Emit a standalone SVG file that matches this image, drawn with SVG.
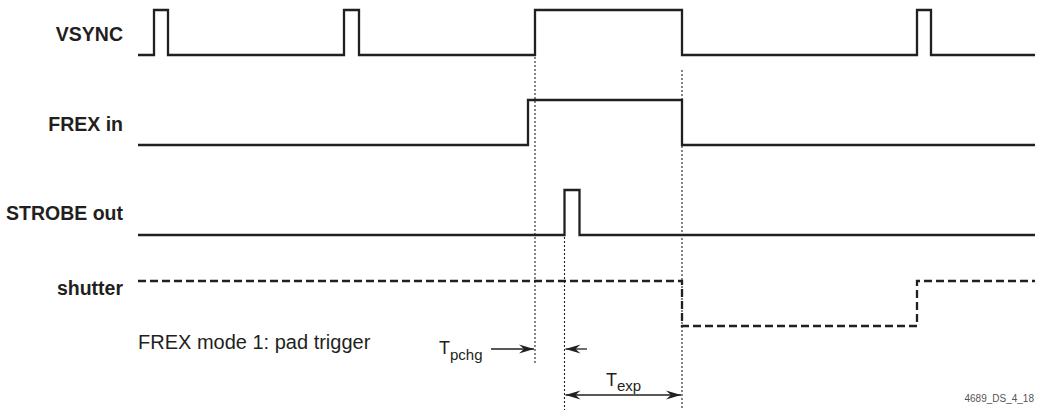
<svg xmlns="http://www.w3.org/2000/svg" width="1046" height="412" viewBox="0 0 1046 412">
<style>
.sig{fill:none;stroke:#231f20;stroke-width:2.3;stroke-linejoin:miter}
.dash{stroke-dasharray:8 4}
.dot{fill:none;stroke:#231f20;stroke-width:1.1;stroke-dasharray:2 2}
.arr{fill:none;stroke:#231f20;stroke-width:1.3}
.lbl{font-family:"Liberation Sans",Arial,sans-serif;font-weight:bold;font-size:19.5px;fill:#231f20;text-anchor:end}
.txt{font-family:"Liberation Sans",Arial,sans-serif;font-size:20px;fill:#231f20}
.sym{font-family:"Liberation Sans",Arial,sans-serif;font-size:18px;fill:#231f20}
.sub{font-size:15px}
.foot{font-family:"Liberation Sans",Arial,sans-serif;font-size:10px;fill:#555}
</style>
<defs>
<marker id="ah" markerUnits="userSpaceOnUse" markerWidth="16" markerHeight="10" refX="15" refY="5" orient="auto-start-reverse">
<path d="M0,0.5 L15,5 L0,9.5 L5,5 Z" fill="#231f20"/>
</marker>
</defs>
<rect width="1046" height="412" fill="#fff"/>
<g id="vsync">
<text class="lbl" x="123" y="41">VSYNC</text>
<path class="sig" d="M138,55 H154 V10 H168 V55 H344 V10 H359 V55 H535 V10 H682 V55 H917 V10 H931 V55 H1035"/>
</g>
<g id="frex">
<text class="lbl" x="123" y="131">FREX in</text>
<path class="sig" d="M138,145 H528 V100 H682 V145 H1035"/>
</g>
<g id="strobe">
<text class="lbl" x="123" y="220">STROBE out</text>
<path class="sig" d="M138,235 H564.5 V190 H579.5 V235 H1035"/>
</g>
<g id="shutter">
<text class="lbl" x="123" y="295">shutter</text>
<path class="sig dash" d="M138,281 H682 V326 H917 V281 H1035"/>
</g>
<g id="caption">
<text class="txt" x="138" y="349">FREX mode 1: pad trigger</text>
<text class="foot" x="1034" y="402" text-anchor="end">4689_DS_4_18</text>
</g>
<g id="connectors">
<line class="dot" x1="535" y1="57" x2="535" y2="365"/>
<line class="dot" x1="564.5" y1="237" x2="564.5" y2="410"/>
<line class="dot" x1="682" y1="70" x2="682" y2="410"/>
<line class="arr" x1="491" y1="349" x2="534" y2="349" marker-end="url(#ah)"/>
<line class="arr" x1="587" y1="349" x2="565.5" y2="349" marker-end="url(#ah)"/>
<line class="arr" x1="565.5" y1="395" x2="681" y2="395" marker-start="url(#ah)" marker-end="url(#ah)"/>
<text class="sym" x="439" y="354">T<tspan class="sub" dy="6">pchg</tspan></text>
<text class="sym" x="606" y="386">T<tspan class="sub" dy="5">exp</tspan></text>
</g>
</svg>
